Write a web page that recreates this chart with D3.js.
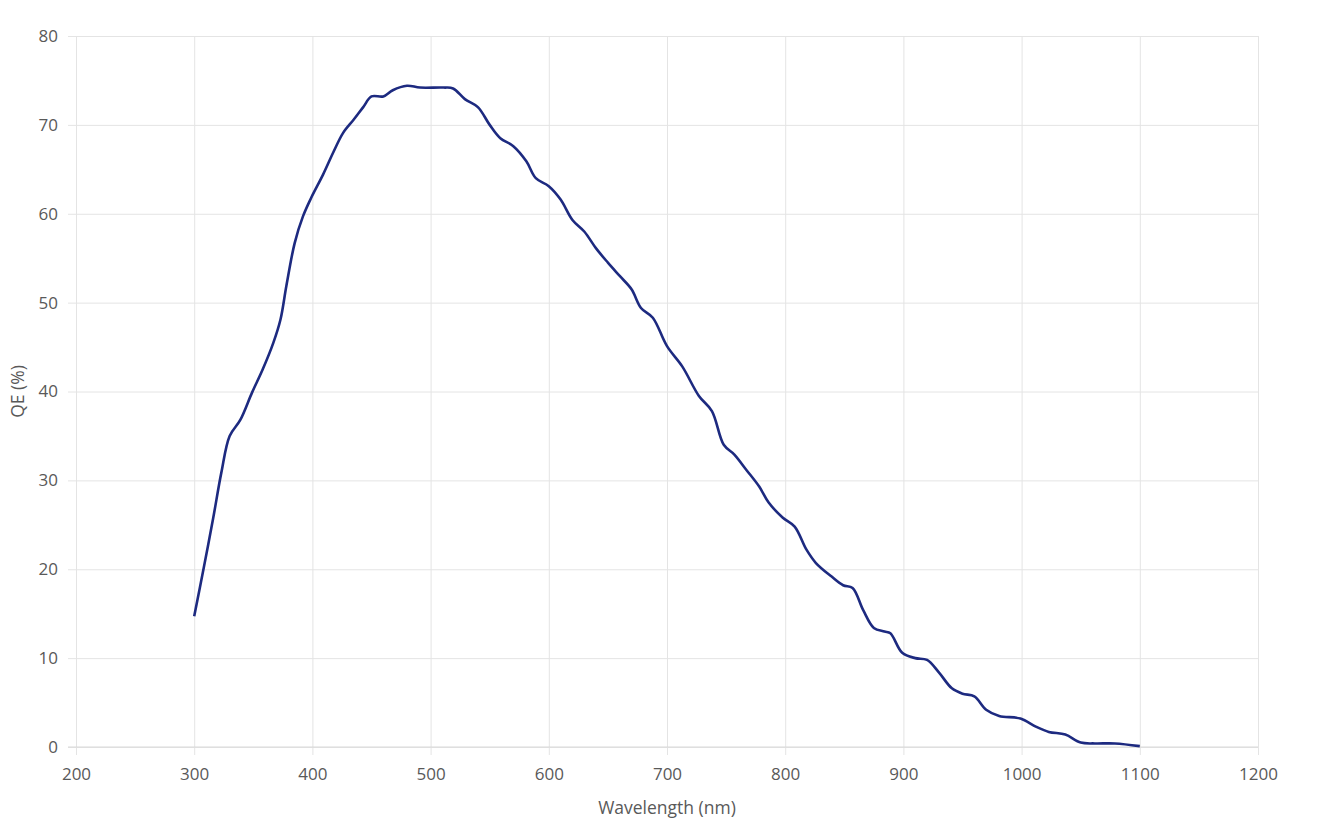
<!DOCTYPE html>
<html>
<head>
<meta charset="utf-8">
<script src="https://cdn.jsdelivr.net/npm/d3@7"></script>
<style>
  body { margin: 0; background: #fff; }
  .tick text { font-family: "Open Sans", "Liberation Sans", sans-serif; font-size: 17px; fill: #595959; }
  .axis-title { font-family: "Open Sans", "Liberation Sans", sans-serif; font-size: 17.5px; fill: #595959; }
</style>
</head>
<body>
<script>
// wavelength (nm) and QE (%)
const wavelength = [300, 308, 316, 323, 330, 339, 349, 358, 367, 373, 378, 385, 392, 399, 409, 418, 426, 435, 443, 450,
  460, 468, 480, 491, 511, 519, 529, 540, 550, 559, 570, 581, 589, 600, 610, 620, 630, 640, 650, 660,
  670, 678, 688, 700, 713, 727, 738, 748, 757, 767, 778, 786, 798, 808, 818, 826, 839, 849, 857, 866,
  875, 884, 889, 899, 910, 920, 930, 941, 950, 960, 970, 981, 999, 1012, 1023, 1037, 1050, 1062, 1079, 1100];
const qe = [14.7, 20.1, 25.7, 30.9, 35.0, 36.8, 39.9, 42.5, 45.5, 48.1, 51.9, 56.7, 59.7, 61.8, 64.4, 67.0, 69.1, 70.6, 72.0, 73.2,
  73.2, 73.9, 74.4, 74.2, 74.2, 74.1, 72.9, 72.0, 70.0, 68.5, 67.6, 65.9, 64.0, 63.1, 61.6, 59.3, 58.0, 56.1, 54.5, 53.0,
  51.5, 49.4, 48.3, 45.1, 42.8, 39.5, 37.8, 34.0, 32.9, 31.2, 29.3, 27.5, 25.8, 24.8, 22.2, 20.7, 19.2, 18.2, 17.9, 15.4,
  13.4, 13.0, 12.8, 10.6, 10.0, 9.8, 8.4, 6.6, 6.0, 5.7, 4.2, 3.5, 3.2, 2.3, 1.7, 1.4, 0.5, 0.4, 0.4, 0.1];
const xTicks = [200, 300, 400, 500, 600, 700, 800, 900, 1000, 1100, 1200];
const yTicks = [0, 10, 20, 30, 40, 50, 60, 70, 80];

const data = wavelength.map((w, i) => ({ w: w, q: qe[i] }));

const margin = { top: 36, right: 76, bottom: 76, left: 76 };
const width = 1334 - margin.left - margin.right;
const height = 823 - margin.top - margin.bottom;

const x = d3.scaleLinear().domain([200, 1200]).range([0, width]);
const y = d3.scaleLinear().domain([0, 80]).range([height, 0]);

const svg = d3.select('body').append('svg')
  .attr('width', 1334)
  .attr('height', 823)
  .append('g')
  .attr('transform', 'translate(' + margin.left + ',' + margin.top + ')');

// horizontal grid + y labels
const yAxis = svg.append('g')
  .attr('transform', 'translate(-8,0)')
  .call(d3.axisLeft(y).tickValues(yTicks).tickFormat(d3.format('d')).tickSize(-(width + 8)).tickPadding(10));
yAxis.select('.domain').remove();
yAxis.selectAll('.tick line').attr('stroke', '#e4e4e4');
yAxis.selectAll('.tick text').attr('x', -10);

// vertical grid + x labels
const xAxis = svg.append('g')
  .attr('transform', 'translate(0,' + (height + 8) + ')')
  .call(d3.axisBottom(x).tickValues(xTicks).tickFormat(d3.format('d')).tickSize(-(height + 8)).tickPadding(13));
xAxis.select('.domain').remove();
xAxis.selectAll('.tick line').attr('stroke', '#e4e4e4');

// baseline slightly darker
svg.append('line')
  .attr('x1', -8).attr('x2', width)
  .attr('y1', y(0)).attr('y2', y(0))
  .attr('stroke', '#d9d9d9');

// axis titles
svg.append('text')
  .attr('class', 'axis-title')
  .attr('x', width / 2)
  .attr('y', height + 67)
  .attr('text-anchor', 'middle')
  .text('Wavelength (nm)');

svg.append('text')
  .attr('class', 'axis-title')
  .attr('transform', 'translate(' + (-52) + ',' + (height / 2) + ') rotate(-90)')
  .attr('text-anchor', 'middle')
  .text('QE (%)');

// QE curve
const line = d3.line()
  .x(d => x(d.w))
  .y(d => y(d.q))
  .curve(d3.curveCatmullRom.alpha(0.5));

svg.append('path')
  .datum(data)
  .attr('fill', 'none')
  .attr('stroke', '#1d2a80')
  .attr('stroke-width', 2.6)
  .attr('stroke-linejoin', 'round')
  .attr('d', line);
</script>
</body>
</html>
